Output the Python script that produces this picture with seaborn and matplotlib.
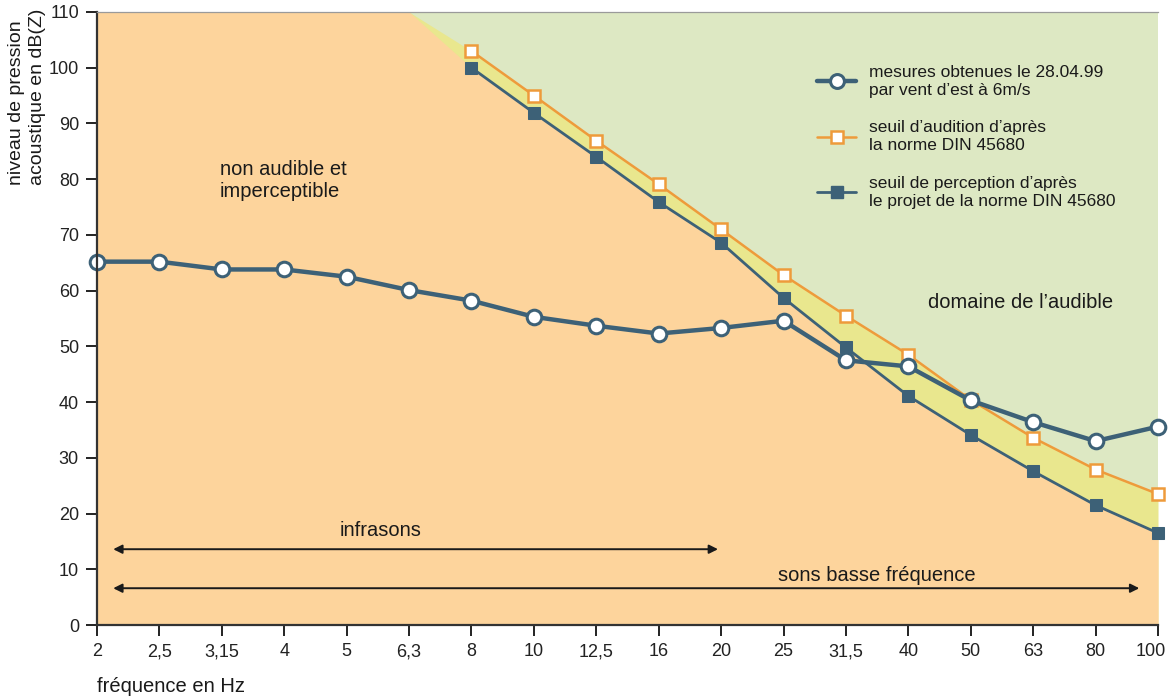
import numpy as np
import matplotlib
matplotlib.use("Agg")
import matplotlib.pyplot as plt
import matplotlib.transforms as mtrans
import seaborn as sns
from matplotlib.lines import Line2D

# ---------------- data ----------------
freq_labels = ['2', '2,5', '3,15', '4', '5', '6,3', '8', '10', '12,5', '16',
               '20', '25', '31,5', '40', '50', '63', '80', '100']
measured = [65.2, 65.2, 63.8, 63.8, 62.5, 60.1, 58.2, 55.3, 53.7, 52.3,
            53.3, 54.6, 47.5, 46.4, 40.3, 36.4, 33.0, 35.6]
threshold_freq_start = 6  # index of 8 Hz
audition = [103.0, 95.0, 86.9, 79.1, 71.0, 62.8, 55.5, 48.5, 40.4, 33.6, 27.9, 23.5]
perception = [100.0, 91.9, 84.0, 75.9, 68.6, 58.7, 49.8, 41.1, 34.1, 27.6, 21.5, 16.5]
# extrapolated thresholds at 6,3 Hz (used only for the shaded zones)
audition_ext = 114.3
perception_ext = 110.0

arrow_infra = (0.26, 9.95, 13.6)
arrow_bf = (0.26, 16.7, 6.6)

# ---------------- style ----------------
sns.set_style("ticks")
plt.rcParams['font.family'] = ['Liberation Sans', 'DejaVu Sans']

C_ORANGE_FILL = '#FDD49C'
C_YELLOW_FILL = '#E9E78E'
C_GREEN_FILL = '#DDE8C3'
C_BLUE = '#3D6177'
C_ORANGE = '#EE9B3B'
C_TEXT = '#1a1a1a'
FS_TXT = 14.5

fig = plt.figure(figsize=(11.7, 6.99), dpi=100)
ax = fig.add_axes([97/1170, 1-625/699, (1158-97)/1170, (625-12)/699])

n = len(freq_labels)
xi = np.arange(n)
xt = np.arange(threshold_freq_start, n)

# shaded zones
ymax = 110
ax.axhspan(0, ymax, color=C_GREEN_FILL, zorder=0, lw=0)
bx = np.concatenate([[0, threshold_freq_start - 1], xt])
ba = np.concatenate([[audition_ext, audition_ext], audition])
bp = np.concatenate([[perception_ext, perception_ext], perception])
ax.fill_between(bx, 0, np.minimum(ba, ymax), color=C_YELLOW_FILL, lw=0, zorder=0.5)
ax.fill_between(bx, 0, np.minimum(bp, ymax), color=C_ORANGE_FILL, lw=0, zorder=0.6)

# lines
sns.lineplot(x=xt, y=perception, ax=ax, color=C_BLUE, lw=2.0, marker='s',
             markersize=8.5, markerfacecolor=C_BLUE, markeredgecolor=C_BLUE,
             zorder=3, clip_on=False)
sns.lineplot(x=xt, y=audition, ax=ax, color=C_ORANGE, lw=1.8, marker='s',
             markersize=8.5, markerfacecolor='white', markeredgecolor=C_ORANGE,
             markeredgewidth=1.8, zorder=4, clip_on=False)
sns.lineplot(x=xi, y=measured, ax=ax, color=C_BLUE, lw=3.2, marker='o',
             markersize=10.5, markerfacecolor='white', markeredgecolor=C_BLUE,
             markeredgewidth=2.2, zorder=5, clip_on=False)

# arrows
for (x0, x1, yv) in (arrow_infra, arrow_bf):
    ax.annotate('', xy=(x0, yv), xytext=(x1, yv),
                arrowprops=dict(arrowstyle='<|-|>', color=C_TEXT, lw=1.4,
                                mutation_scale=13, shrinkA=0, shrinkB=0),
                zorder=6)

ax.text(4.55, 17.0, 'infrasons', ha='center', va='center', fontsize=FS_TXT, color=C_TEXT)
ax.text(12.5, 8.8, 'sons basse fréquence', ha='center', va='center', fontsize=FS_TXT, color=C_TEXT)
ax.text(1.97, 79.7, 'non audible et\nimperceptible', ha='left', va='center',
        fontsize=FS_TXT, color=C_TEXT, linespacing=1.2)
ax.text(14.8, 57.8, 'domaine de l\u2019audible', ha='center', va='center',
        fontsize=FS_TXT, color=C_TEXT)

# axes
ax.set_xlim(0, n - 1)
ax.set_ylim(0, ymax)
ax.set_xticks(xi)
ax.set_xticklabels(freq_labels)
ax.set_yticks(np.arange(0, 111, 10))
ax.tick_params(axis='both', labelsize=13, colors='#222222', width=1.4, length=8,
               direction='out', pad=5)
ax.set_xlabel('')
ax.set_ylabel('')
for s in ('left', 'bottom'):
    ax.spines[s].set_color('#333333')
    ax.spines[s].set_linewidth(1.6)
ax.spines['top'].set_visible(True)
ax.spines['top'].set_color('#9a9a9a')
ax.spines['top'].set_linewidth(0.9)
ax.spines['right'].set_visible(False)
for sp in ax.spines.values():
    sp.set_zorder(7)

# keep last tick label inside the picture
last = ax.get_xticklabels()[-1]
last.set_transform(last.get_transform() + mtrans.ScaledTranslation(-5/72, 0, fig.dpi_scale_trans))

fig.text(97/1170, 1-687/699, 'fréquence en Hz', ha='left', va='center',
         fontsize=FS_TXT, color=C_TEXT)
fig.text(8/1170, 1-9/699, 'niveau de pression\nacoustique en dB(Z)', rotation=90,
         ha='left', va='top', fontsize=14, color=C_TEXT, linespacing=1.3)

handles = [
    Line2D([], [], color=C_BLUE, lw=3.2, marker='o', markersize=10,
           markerfacecolor='white', markeredgecolor=C_BLUE, markeredgewidth=2.2),
    Line2D([], [], color=C_ORANGE, lw=1.8, marker='s', markersize=8.5,
           markerfacecolor='white', markeredgecolor=C_ORANGE, markeredgewidth=1.8),
    Line2D([], [], color=C_BLUE, lw=2.0, marker='s', markersize=8.5,
           markerfacecolor=C_BLUE, markeredgecolor=C_BLUE),
]
labels = ['mesures obtenues le 28.04.99\npar vent d\u2019est à 6m/s',
          'seuil d\u2019audition d\u2019après\nla norme DIN 45680',
          'seuil de perception d\u2019après\nle projet de la norme DIN 45680']
leg = ax.legend(handles, labels, loc='upper left', bbox_to_anchor=(0.6725, 0.925),
                frameon=False, fontsize=12.5, handlelength=2.2, handletextpad=0.75,
                labelspacing=1.3, borderaxespad=0)
for t in leg.get_texts():
    t.set_color(C_TEXT)
    t.set_linespacing(1.25)

fig.savefig('out.png', dpi=100)
